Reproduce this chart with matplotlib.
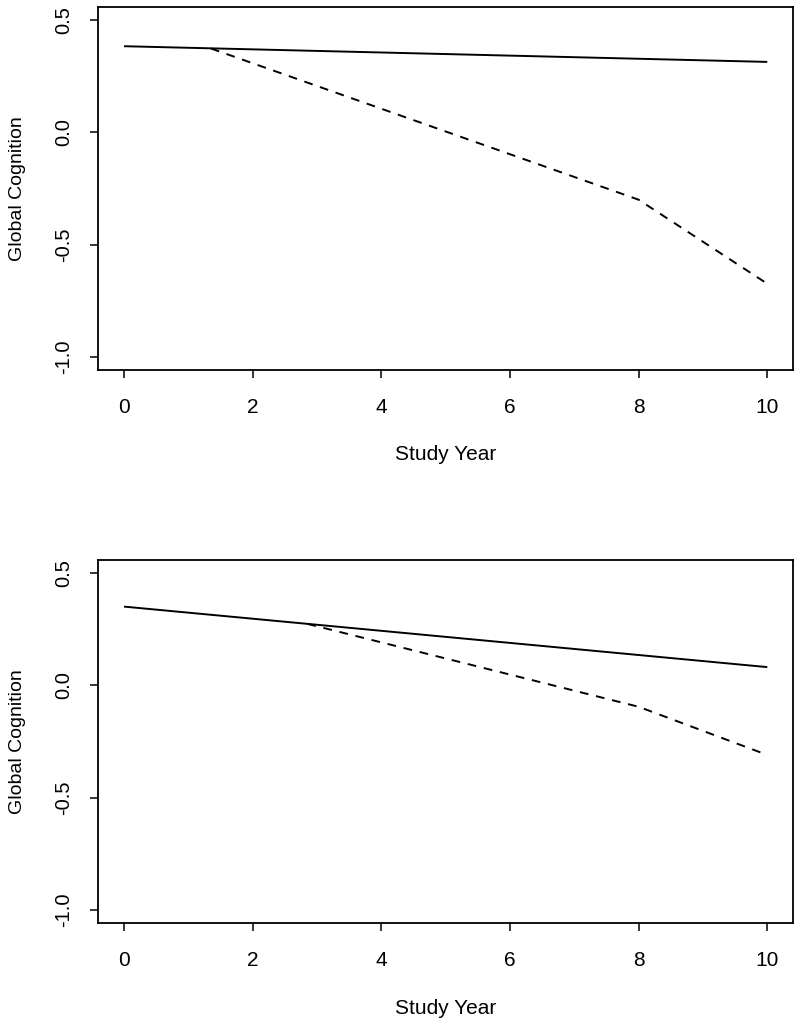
import matplotlib
matplotlib.use("Agg")
import matplotlib.pyplot as plt

plt.rcParams['font.family'] = ['Liberation Sans', 'DejaVu Sans']

# Panel 1 (top)
top_solid_x = [0, 10]
top_solid_y = [0.385, 0.315]
top_dash_x = [1.35, 8, 10]
top_dash_y = [0.375, -0.30, -0.675]

# Panel 2 (bottom)
bot_solid_x = [0, 10]
bot_solid_y = [0.352, 0.082]
bot_dash_x = [2.85, 8, 10]
bot_dash_y = [0.275, -0.095, -0.31]

x_ticks = [0, 2, 4, 6, 8, 10]
y_ticks = [-1.0, -0.5, 0.0, 0.5]
y_tick_labels = ["-1.0", "-0.5", "0.0", "0.5"]
x_label = "Study Year"
y_label = "Global Cognition"

W, H = 800, 1024
fig = plt.figure(figsize=(W / 100, H / 100), dpi=100)

panels = [
    (top_solid_x, top_solid_y, top_dash_x, top_dash_y, 7, 370),
    (bot_solid_x, bot_solid_y, bot_dash_x, bot_dash_y, 560, 923),
]

for sx, sy, dx, dy, ptop, pbot in panels:
    left, right = 98.3, 793
    hgt = pbot - ptop
    ax = fig.add_axes([left / W, 1 - pbot / H, (right - left) / W, hgt / H])
    ax.plot(sx, sy, color='black', lw=1.4, solid_capstyle='butt')
    ax.plot(dx, dy, color='black', lw=1.4, linestyle=(0, (4.5, 4.0)))
    ax.set_xlim(-0.4, 10.4)
    ax.set_ylim(-1.06, 0.56)
    ax.set_xticks(x_ticks)
    ax.set_xticklabels([str(t) for t in x_ticks], fontsize=15)
    ax.set_yticks(y_ticks)
    ax.set_yticklabels(y_tick_labels, fontsize=14.5)
    for s in ax.spines.values():
        s.set_linewidth(1.3)
    ax.tick_params(axis='both', direction='out', length=6, width=1.1)
    ax.tick_params(axis='x', pad=14)
    ax.tick_params(axis='y', pad=12, labelrotation=90)
    for lab in ax.get_yticklabels():
        lab.set_va('center')
    ax.set_xlabel(x_label, fontsize=15)
    ax.set_ylabel(y_label, fontsize=14)
    ax.xaxis.set_label_coords(0.5, -85 / hgt)
    ax.xaxis.label.set_va('center')
    ax.yaxis.set_label_coords((18 - left) / (right - left), 0.5)
    ax.yaxis.label.set_va('center')

fig.savefig("out.png", dpi=100)
